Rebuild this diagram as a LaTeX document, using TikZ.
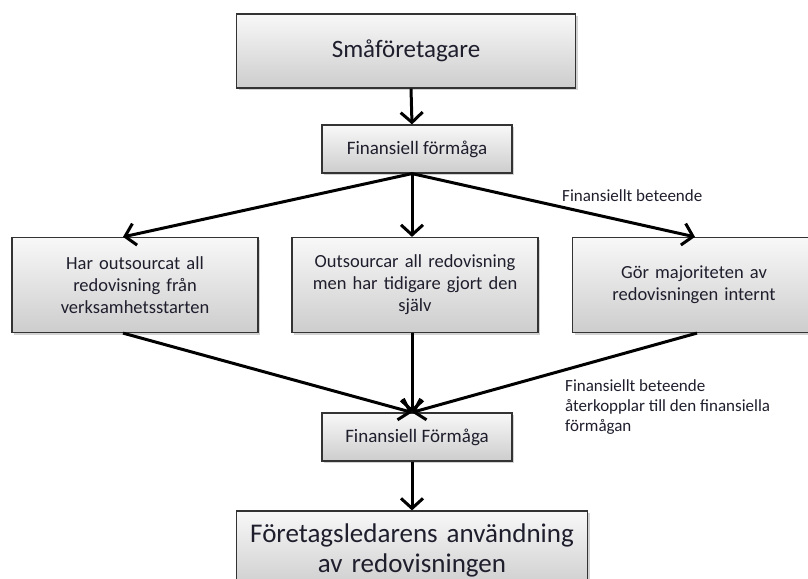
\documentclass[tikz,border=0pt]{standalone}
\usepackage{fontspec}
\setmainfont{Carlito}
\usetikzlibrary{arrows.meta,positioning,shadows}
\definecolor{boxTop}{RGB}{248, 248, 248}
\definecolor{boxBottom}{RGB}{205, 205, 205}
\definecolor{txtDark}{RGB}{30, 30, 45}

\begin{document}
\begin{tikzpicture}[
    x=1pt, y=-1pt,
    % box with soft gradient and shadow
    block/.style={
        draw=black!80,
        line width=1.2pt,
        top color=boxTop,
        bottom color=boxBottom,
        align=center,
        text=txtDark,
        inner sep=2pt,
        drop shadow={opacity=0.35, shadow xshift=2pt, shadow yshift=-2pt}
    },
    bigbox/.style={block, font=\fontsize{25}{30}\selectfont},
    midbox/.style={block, font=\fontsize{19}{23}\selectfont, minimum width=190pt, minimum height=48pt},
    choice/.style={block, font=\fontsize{18.5}{22}\selectfont, minimum width=246pt, minimum height=95pt, text width=240pt},
    note/.style={text=txtDark, font=\fontsize{17}{20}\selectfont, align=left, inner sep=0pt},
    % thick arrows with open heads
    arrow/.style={
        -{Straight Barb[length=10pt, width=22pt, line width=3pt]},
        draw=black,
        line width=3pt
    }
]
    \useasboundingbox (0,0) rectangle (808,578);

    % --- top ---
    \node[bigbox, minimum width=339pt, minimum height=74pt] (small) at (406,51) {Småföretagare};
    \node[midbox] (ability) at (417,149) {Finansiell förmåga};

    % --- the three groups ---
    \node[choice] (left) at (135,285) {Har outsourcat all\\redovisning från\\verksamhetsstarten};
    \node[choice] (mid) at (415,285) {Outsourcar all redovisning\\men har tidigare gjort den\\själv};
    \node[choice, minimum width=243pt, text width=237pt] (right) at (694,285) {Gör majoriteten av\\redovisningen internt};

    % --- bottom ---
    \node[midbox] (ability2) at (417,437) {Finansiell Förmåga};
    \node[bigbox, font=\fontsize{27}{30}\selectfont, minimum width=351pt, minimum height=78pt, text width=340pt] (usage) at (412,550) {Företagsledarens användning\\av redovisningen};

    % labels
    \node[note, anchor=west] (behav) at (562,196) {Finansiellt beteende};
    \node[note, anchor=north west] (feedback) at (565,379) {Finansiellt beteende\\återkopplar till den finansiella\\förmågan};

    % connectors
    \draw[arrow] ([xshift=5pt]small.south) -- ([xshift=-5pt]ability.north);
    \draw[arrow] ([xshift=-5pt]ability.south) -- ([xshift=-12pt]left.north);
    \draw[arrow] ([xshift=-5pt]ability.south) -- ([xshift=-3pt]mid.north);
    \draw[arrow] ([xshift=-5pt]ability.south) -- ([xshift=1pt]right.north);
    \draw[arrow] ([xshift=-12pt]left.south) -- ([xshift=-5pt]ability2.north);
    \draw[arrow] ([xshift=-3pt]mid.south) -- ([xshift=-5pt]ability2.north);
    \draw[arrow] ([xshift=3pt]right.south) -- ([xshift=-5pt]ability2.north);
    \draw[arrow] ([xshift=-5pt]ability2.south) -- (usage.north);
\end{tikzpicture}
\end{document}
